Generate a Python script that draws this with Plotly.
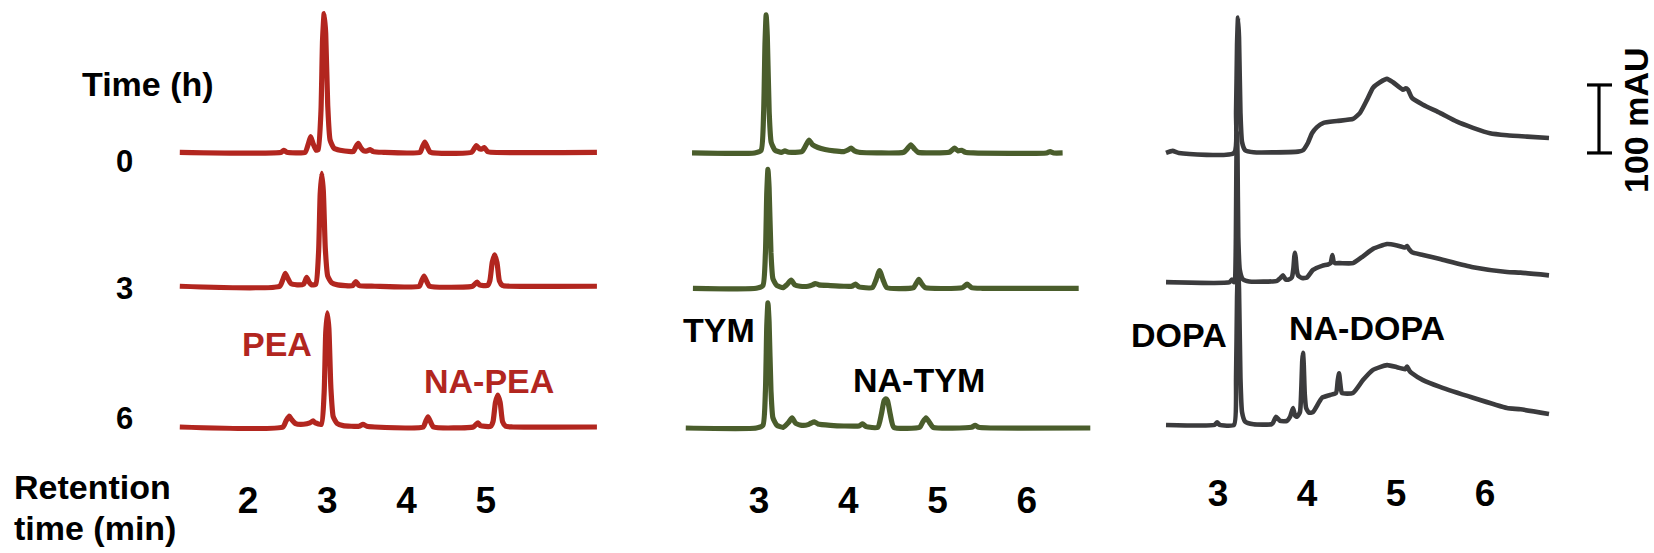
import plotly.graph_objects as go

# ---------------- data: (retention time [min], absorbance [mAU]) ----------------
PEA_0H = [(1.14, 0), (2.42, 0), (2.45, 3), (2.49, 0), (2.72, 0), (2.76, 12), (2.79, 23), (2.82, 13), (2.86, 3),
          (2.885, 4), (2.92, 60), (2.94, 165), (2.96, 204), (2.98, 175), (3.005, 70), (3.035, 18), (3.085, 6),
          (3.16, 3), (3.30, 1), (3.33, 1), (3.36, 8), (3.39, 13), (3.42, 7), (3.46, 2), (3.50, 2), (3.54, 4),
          (3.58, 1), (3.70, 0), (4.17, 0), (4.20, 8), (4.23, 15), (4.26, 8), (4.30, 0), (4.82, 0), (4.85, 5),
          (4.88, 10), (4.92, 5), (4.95, 5), (4.98, 7), (5.02, 1), (5.06, 0), (6.40, 0)]
PEA_3H = [(1.14, 0), (2.40, 0), (2.44, 10), (2.47, 19), (2.50, 12), (2.54, 4), (2.62, 2), (2.70, 3), (2.74, 13),
          (2.77, 6), (2.80, 2), (2.855, 3), (2.89, 50), (2.91, 135), (2.93, 166), (2.95, 140), (2.975, 55),
          (3.005, 15), (3.055, 5), (3.13, 2), (3.32, 1), (3.36, 7), (3.40, 1), (3.60, 0), (4.16, 0), (4.19, 8),
          (4.22, 15), (4.25, 8), (4.29, 0), (4.83, 0), (4.86, 3), (4.89, 6), (4.92, 2), (5.02, 1), (5.05, 8),
          (5.08, 35), (5.11, 46), (5.14, 35), (5.17, 8), (5.21, 1), (5.30, 0), (6.40, 0)]
PEA_6H = [(1.14, 0), (2.44, 0), (2.48, 9), (2.52, 16), (2.55, 11), (2.60, 5), (2.70, 4), (2.78, 6), (2.82, 9),
          (2.85, 6), (2.925, 4), (2.96, 50), (2.98, 138), (3.00, 168), (3.02, 145), (3.045, 58), (3.075, 15),
          (3.125, 5), (3.20, 2), (3.40, 1), (3.45, 4), (3.50, 1), (3.60, 0), (4.21, 0), (4.24, 8), (4.27, 15),
          (4.30, 8), (4.34, 0), (4.84, 0), (4.87, 3), (4.90, 6), (4.93, 2), (5.06, 1), (5.09, 8), (5.12, 36),
          (5.15, 47), (5.18, 36), (5.21, 8), (5.25, 1), (5.34, 0), (6.40, 0)]

TYM_0H = [(2.25, 0), (2.95, 0), (3.024, 4), (3.052, 60), (3.067, 160), (3.08, 203), (3.093, 172), (3.114, 60),
          (3.136, 16), (3.18, 4), (3.25, 1), (3.29, 3), (3.33, 1), (3.48, 2), (3.52, 10), (3.56, 19), (3.60, 12),
          (3.66, 8), (3.74, 5), (3.84, 3), (3.95, 2), (3.99, 4), (4.03, 7), (4.07, 3), (4.12, 1), (4.62, 1),
          (4.66, 6), (4.70, 12), (4.74, 6), (4.78, 1), (5.13, 1), (5.16, 4), (5.19, 7), (5.23, 3), (5.27, 4),
          (5.31, 1), (5.40, 0), (6.22, 0), (6.26, 2), (6.30, 0), (6.40, 0)]
TYM_3H = [(2.26, 0), (2.97, 0), (3.044, 4), (3.072, 52), (3.087, 140), (3.10, 175), (3.113, 148), (3.134, 52),
          (3.156, 14), (3.20, 4), (3.27, 1), (3.31, 5), (3.36, 12), (3.40, 5), (3.46, 3), (3.55, 3), (3.60, 5),
          (3.63, 7), (3.67, 5), (3.80, 4), (3.95, 3), (4.04, 3), (4.08, 6), (4.12, 2), (4.27, 1), (4.31, 12),
          (4.35, 26), (4.39, 12), (4.43, 1), (4.73, 1), (4.76, 7), (4.79, 13), (4.82, 7), (4.86, 1), (5.28, 1),
          (5.33, 6), (5.38, 1), (5.50, 0), (6.58, 0)]
TYM_6H = [(2.18, 0), (2.97, 0), (3.044, 4), (3.072, 55), (3.087, 150), (3.10, 184), (3.113, 156), (3.134, 55),
          (3.156, 15), (3.20, 4), (3.27, 1), (3.33, 8), (3.37, 15), (3.41, 7), (3.48, 4), (3.55, 5), (3.58, 7),
          (3.62, 9), (3.66, 6), (3.80, 4), (3.95, 3), (4.12, 3), (4.16, 6), (4.20, 2), (4.33, 1), (4.37, 20),
          (4.40, 40), (4.42, 43), (4.44, 40), (4.47, 20), (4.51, 1), (4.80, 1), (4.83, 8), (4.87, 15), (4.91, 8),
          (4.95, 1), (5.38, 1), (5.42, 4), (5.46, 1), (5.60, 0), (6.71, 0)]

DOPA_0H = [(2.416, 0), (2.49, 3), (2.56, 0), (3.18, 0), (3.203, 60), (3.214, 160), (3.225, 199), (3.236, 170),
           (3.252, 60), (3.27, 16), (3.305, 4), (3.40, 1), (3.90, 2), (3.955, 4), (4.011, 15), (4.056, 29),
           (4.112, 38), (4.18, 44), (4.337, 47), (4.517, 50), (4.596, 59), (4.674, 78), (4.742, 96), (4.82, 104),
           (4.899, 109), (4.966, 104), (5.079, 93), (5.11, 95), (5.135, 93), (5.18, 81), (5.303, 71), (5.494, 59),
           (5.685, 46), (5.865, 37), (6.056, 29), (6.247, 26), (6.472, 24), (6.719, 22)]
DOPA_3H = [(2.416, 0), (3.13, 0), (3.157, 4), (3.18, 0), (3.19, 2), (3.201, 66), (3.207, 176), (3.213, 220),
           (3.219, 187), (3.228, 66), (3.245, 18), (3.28, 4), (3.35, 1), (3.663, 2), (3.70, 6), (3.73, 10),
           (3.76, 4), (3.80, 4), (3.83, 7), (3.847, 20), (3.858, 38), (3.865, 43), (3.873, 36), (3.885, 18),
           (3.90, 10), (3.944, 6), (4.00, 7), (4.067, 18), (4.169, 24), (4.236, 26), (4.265, 28), (4.285, 40),
           (4.30, 30), (4.315, 28), (4.371, 28), (4.517, 28), (4.629, 38), (4.742, 49), (4.899, 56), (5.011, 54),
           (5.101, 51), (5.125, 53), (5.15, 48), (5.18, 44), (5.303, 40), (5.494, 34), (5.865, 22), (6.247, 15),
           (6.40, 14), (6.719, 10)]
DOPA_6H = [(2.416, 0), (2.96, 0), (2.99, 4), (3.02, 0), (3.18, 0), (3.203, 70), (3.214, 188), (3.225, 235),
           (3.236, 200), (3.252, 70), (3.27, 19), (3.305, 5), (3.40, 1), (3.60, 1), (3.618, 3), (3.652, 12),
           (3.697, 6), (3.775, 6), (3.81, 12), (3.843, 25), (3.865, 14), (3.888, 12), (3.921, 19), (3.935, 50),
           (3.947, 95), (3.955, 106), (3.963, 90), (3.975, 45), (3.99, 25), (4.022, 18), (4.067, 19), (4.169, 40),
           (4.258, 44), (4.326, 47), (4.345, 65), (4.36, 76), (4.375, 60), (4.393, 47), (4.517, 47), (4.629, 66),
           (4.742, 81), (4.899, 88), (5.011, 85), (5.101, 82), (5.125, 86), (5.15, 80), (5.18, 76), (5.303, 66),
           (5.494, 56), (5.865, 40), (6.247, 25), (6.40, 23), (6.719, 16)]

TIME_LABELS = ["0", "3", "6"]
PEA_TICKS = [2, 3, 4, 5]
TYM_TICKS = [3, 4, 5, 6]
DOPA_TICKS = [3, 4, 5, 6]
SCALE_BAR_MAU = 100

# ---------------- layout / styling ----------------
W, H = 1654, 553
FONT = "Liberation Sans, Arial, Helvetica, sans-serif"
RED, GREEN, GREY = "#b2261f", "#4a5d2c", "#3b3b3d"

PX_PER_MAU = 0.68          # 100 mAU scale bar = 68 px
BASE_PX = 427              # pixel row of the 0 mAU level
Y_RANGE = [-(H - BASE_PX) / PX_PER_MAU, BASE_PX / PX_PER_MAU]

panels = [
    dict(name="x", traces=[PEA_0H, PEA_3H, PEA_6H], color=RED, width=5.2, offsets=[404, 207, 0],
         dom=(150, 625), anchor_px=248, anchor_val=2, ppm=79.3, ticks=PEA_TICKS, axis_px=475),
    dict(name="x2", traces=[TYM_0H, TYM_3H, TYM_6H], color=GREEN, width=5.2, offsets=[403, 204, -1.5],
         dom=(635, 1115), anchor_px=759, anchor_val=3, ppm=89.3, ticks=TYM_TICKS, axis_px=475),
    dict(name="x3", traces=[DOPA_0H, DOPA_3H, DOPA_6H], color=GREY, width=4.6, offsets=[403, 213, 3],
         dom=(1125, 1575), anchor_px=1218, anchor_val=3, ppm=89.0, ticks=DOPA_TICKS, axis_px=468),
]

fig = go.Figure()
layout_axes = {}
for i, p in enumerate(panels):
    for data, off in zip(p["traces"], p["offsets"]):
        fig.add_trace(go.Scatter(
            x=[t for t, _ in data], y=[v + off for _, v in data],
            mode="lines", xaxis=p["name"], yaxis="y",
            line=dict(color=p["color"], width=p["width"], shape="spline", smoothing=0.5),
            hoverinfo="skip", showlegend=False))
    px0, px1 = p["dom"]
    rng = [p["anchor_val"] + (px0 - p["anchor_px"]) / p["ppm"],
           p["anchor_val"] + (px1 - p["anchor_px"]) / p["ppm"]]
    key = "xaxis" if i == 0 else f"xaxis{i + 1}"
    layout_axes[key] = dict(
        domain=[px0 / W, px1 / W], range=rng, anchor="free", position=1 - p["axis_px"] / H,
        showgrid=False, zeroline=False, showline=False, ticks="",
        tickvals=p["ticks"], ticktext=[str(v) for v in p["ticks"]],
        tickfont=dict(family=FONT, size=37, color="black", weight="bold"),
        fixedrange=True)

fig.update_layout(
    width=W, height=H, autosize=False,
    margin=dict(l=0, r=0, t=0, b=0, pad=0),
    paper_bgcolor="white", plot_bgcolor="rgba(0,0,0,0)",
    yaxis=dict(domain=[0, 1], range=Y_RANGE, visible=False, fixedrange=True),
    **layout_axes,
)


def label(text, x, y, size=34, color="black", xanchor="center", angle=0):
    fig.add_annotation(text=text, x=x / W, y=1 - y / H, xref="paper", yref="paper",
                       xanchor=xanchor, yanchor="middle", showarrow=False, textangle=angle,
                       font=dict(family=FONT, size=size, color=color, weight="bold"))


label("Time (h)", 148, 84)
for lab, ypx in zip(TIME_LABELS, [161, 288, 418]):
    label(lab, 124, ypx, size=31)
label("Retention", 12, 487, xanchor="left")
label("time (min)", 12, 528, xanchor="left")

label("PEA", 277, 344, color=RED)
label("NA-PEA", 489, 381, color=RED)
label("TYM", 719, 330)
label("NA-TYM", 919, 380)
label("DOPA", 1179, 335)
label("NA-DOPA", 1367, 328)
label(f"{SCALE_BAR_MAU} mAU", 1636, 120, angle=-90)

# scale bar (100 mAU) next to the DOPA 0 h trace
y0 = panels[2]["offsets"][0]
y1 = y0 + SCALE_BAR_MAU
bar = dict(color="black", width=3.2)
fig.add_shape(type="line", xref="paper", yref="y", x0=1599 / W, x1=1599 / W, y0=y0, y1=y1, line=bar)
fig.add_shape(type="line", xref="paper", yref="y", x0=1587 / W, x1=1612 / W, y0=y0, y1=y0, line=bar)
fig.add_shape(type="line", xref="paper", yref="y", x0=1587 / W, x1=1612 / W, y0=y1, y1=y1, line=bar)

fig.write_html("out.html", config={"displayModeBar": False, "staticPlot": True},
               post_script="document.body.style.margin='0';document.body.style.overflow='hidden';")
